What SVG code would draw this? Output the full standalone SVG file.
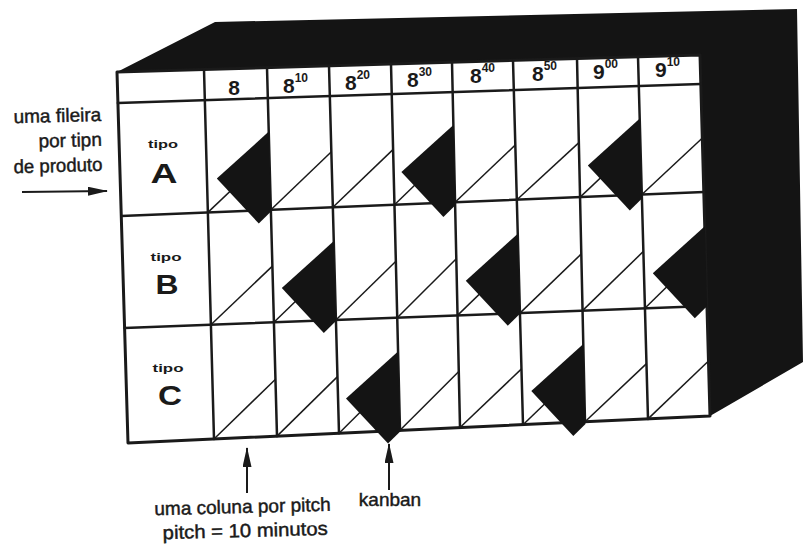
<svg xmlns="http://www.w3.org/2000/svg" width="803" height="547" viewBox="0 0 803 547">
<defs>
<style>
.ln{stroke:#1a1a1a;stroke-width:2.5;fill:none;stroke-linecap:round}
.bd{stroke:#1a1a1a;stroke-width:3;fill:#fff;stroke-linejoin:round}
.dg{stroke:#1a1a1a;stroke-width:1.5;fill:none}
.kb{fill:#141414}
.t{font-family:"Liberation Sans",Arial,sans-serif;fill:#1a1a1a;stroke:#1a1a1a;stroke-width:0.45}
.h{font-family:"Liberation Sans",Arial,sans-serif;font-weight:bold;font-size:21px;fill:#1a1a1a}
.sp{font-size:12px}
.tp{font-family:"Liberation Sans",Arial,sans-serif;font-weight:bold;font-size:11px;fill:#1a1a1a;text-anchor:middle}
.lt{font-family:"Liberation Sans",Arial,sans-serif;font-weight:bold;font-size:27px;fill:#1a1a1a;text-anchor:middle}
.ar{stroke:#1a1a1a;stroke-width:2;fill:none}
</style>
<marker id="ah" markerUnits="userSpaceOnUse" markerWidth="20" markerHeight="10" refX="19" refY="4.5" orient="auto">
<path d="M0,0 L20,4.5 L0,9 Z" fill="#1a1a1a"/>
</marker>
</defs>
<rect width="803" height="547" fill="#fff"/>
<g id="box3d">
<path d="M117,72 L215,22 L797,9 L803,362 L710,416 L700,55 Z" fill="#141414"/>
</g>
<g id="grid">
<polygon class="bd" points="117,72 700,55 710,416 128,443"/>
<line class="ln" x1="117.9" y1="103" x2="700.9" y2="84"/>
<line class="ln" x1="121.3" y1="216" x2="703.9" y2="192"/>
<line class="ln" x1="124.6" y1="328" x2="706.9" y2="306"/>
<line class="ln" x1="204" y1="69.5" x2="214" y2="439"/>
<line class="ln" x1="267" y1="67.6" x2="277" y2="436.1"/>
<line class="ln" x1="329" y1="65.8" x2="339" y2="433.2"/>
<line class="ln" x1="391" y1="64" x2="400" y2="430.3"/>
<line class="ln" x1="452" y1="62.2" x2="460" y2="427.5"/>
<line class="ln" x1="513" y1="60.5" x2="523" y2="424.7"/>
<line class="ln" x1="577" y1="58.6" x2="585" y2="421.7"/>
<line class="ln" x1="638" y1="56.8" x2="648" y2="418.9"/>
</g>
<g id="header">
<text class="h" x="234" y="95" text-anchor="middle">8</text>
<text class="h" x="283" y="93">8<tspan class="sp" dy="-11">10</tspan></text>
<text class="h" x="345" y="90">8<tspan class="sp" dy="-11">20</tspan></text>
<text class="h" x="407" y="87">8<tspan class="sp" dy="-11">30</tspan></text>
<text class="h" x="470" y="83">8<tspan class="sp" dy="-11">40</tspan></text>
<text class="h" x="532" y="81">8<tspan class="sp" dy="-11">50</tspan></text>
<text class="h" x="593" y="79">9<tspan class="sp" dy="-11">00</tspan></text>
<text class="h" x="655" y="77">9<tspan class="sp" dy="-11">10</tspan></text>
</g>
<g id="row-A">
<text class="tp" x="163" y="148" textLength="30" lengthAdjust="spacingAndGlyphs">tipo</text>
<text class="lt" x="164" y="183" textLength="27" lengthAdjust="spacingAndGlyphs">A</text>
<line class="dg" x1="207.9" y1="212.4" x2="269.4" y2="154"/>
<line class="dg" x1="270.9" y1="209.8" x2="331.4" y2="151.7"/>
<line class="dg" x1="332.9" y1="207.3" x2="393.2" y2="149.4"/>
<line class="dg" x1="394.5" y1="204.7" x2="453.9" y2="147.2"/>
<line class="dg" x1="455.1" y1="202.2" x2="515.4" y2="144.9"/>
<line class="dg" x1="516.9" y1="199.7" x2="578.9" y2="142.6"/>
<line class="dg" x1="580.1" y1="197.1" x2="640.4" y2="140.3"/>
<line class="dg" x1="641.9" y1="194.5" x2="702.4" y2="138"/>
<polygon class="kb" points="268.8,131.6 216.8,178.6 258.8,223.6 271,211.6"/>
<polygon class="kb" points="453.4,125.1 401.4,172.1 443.4,217.1 455.6,205.1"/>
<polygon class="kb" points="639.8,118.6 587.8,165.6 629.8,210.6 642,198.6"/>
</g>
<g id="row-B">
<text class="tp" x="166" y="261" textLength="31" lengthAdjust="spacingAndGlyphs">tipo</text>
<text class="lt" x="167" y="294" textLength="23" lengthAdjust="spacingAndGlyphs">B</text>
<line class="dg" x1="210.9" y1="324.7" x2="272.4" y2="266.1"/>
<line class="dg" x1="273.9" y1="322.3" x2="334.4" y2="263.7"/>
<line class="dg" x1="335.9" y1="320" x2="395.9" y2="261.2"/>
<line class="dg" x1="397.2" y1="317.7" x2="456.3" y2="258.8"/>
<line class="dg" x1="457.5" y1="315.4" x2="518.4" y2="256.4"/>
<line class="dg" x1="519.9" y1="313.1" x2="581.3" y2="253.9"/>
<line class="dg" x1="582.5" y1="310.6" x2="643.4" y2="251.4"/>
<line class="dg" x1="644.9" y1="308.3" x2="705.4" y2="249"/>
<polygon class="kb" points="333.8,241.1 281.8,288.1 323.8,333.1 336,321.1"/>
<polygon class="kb" points="517.8,233.7 465.8,280.7 507.8,325.7 520,313.7"/>
<polygon class="kb" points="704.8,226.2 652.8,273.2 694.8,318.2 707,306.2"/>
</g>
<g id="row-C">
<text class="tp" x="168" y="372" textLength="31" lengthAdjust="spacingAndGlyphs">tipo</text>
<text class="lt" x="170" y="405" textLength="24" lengthAdjust="spacingAndGlyphs">C</text>
<line class="dg" x1="214" y1="439" x2="275.5" y2="379.2"/>
<line class="dg" x1="277" y1="436.1" x2="337.5" y2="376.6"/>
<line class="dg" x1="339" y1="433.2" x2="398.6" y2="374"/>
<line class="dg" x1="400" y1="430.3" x2="458.8" y2="371.5"/>
<line class="dg" x1="460" y1="427.5" x2="521.5" y2="368.9"/>
<line class="dg" x1="523" y1="424.7" x2="583.8" y2="366.2"/>
<line class="dg" x1="585" y1="421.7" x2="646.5" y2="363.6"/>
<line class="dg" x1="648" y1="418.9" x2="708.5" y2="361"/>
<polygon class="kb" points="398,351.5 346,398.5 388,443.5 400.2,431.5"/>
<polygon class="kb" points="583.3,343.9 531.3,390.9 573.3,435.9 585.5,423.9"/>
</g>
<g id="labels">
<g transform="rotate(-1.5 58 147)">
<text class="t" x="102" y="122" font-size="19" text-anchor="end">uma fileira</text>
<text class="t" x="102" y="147" font-size="19" text-anchor="end">por tipn</text>
<text class="t" x="102" y="172" font-size="19" text-anchor="end" textLength="89" lengthAdjust="spacingAndGlyphs">de produto</text>
</g>
<g transform="rotate(-1.5 245 524)">
<text class="t" x="243" y="513" font-size="19" text-anchor="middle">uma coluna por pitch</text>
<text class="t" x="245" y="537" font-size="19" text-anchor="middle" textLength="165" lengthAdjust="spacingAndGlyphs">pitch = 10 minutos</text>
</g>
<text class="t" x="390" y="506" font-size="19" text-anchor="middle">kanban</text>
</g>
<g id="connectors">
<line class="ar" x1="22" y1="192" x2="107" y2="191" marker-end="url(#ah)"/>
<line class="ar" x1="247" y1="493" x2="247" y2="448" marker-end="url(#ah)"/>
<line class="ar" x1="389" y1="490" x2="389" y2="444" marker-end="url(#ah)"/>
</g>
</svg>
